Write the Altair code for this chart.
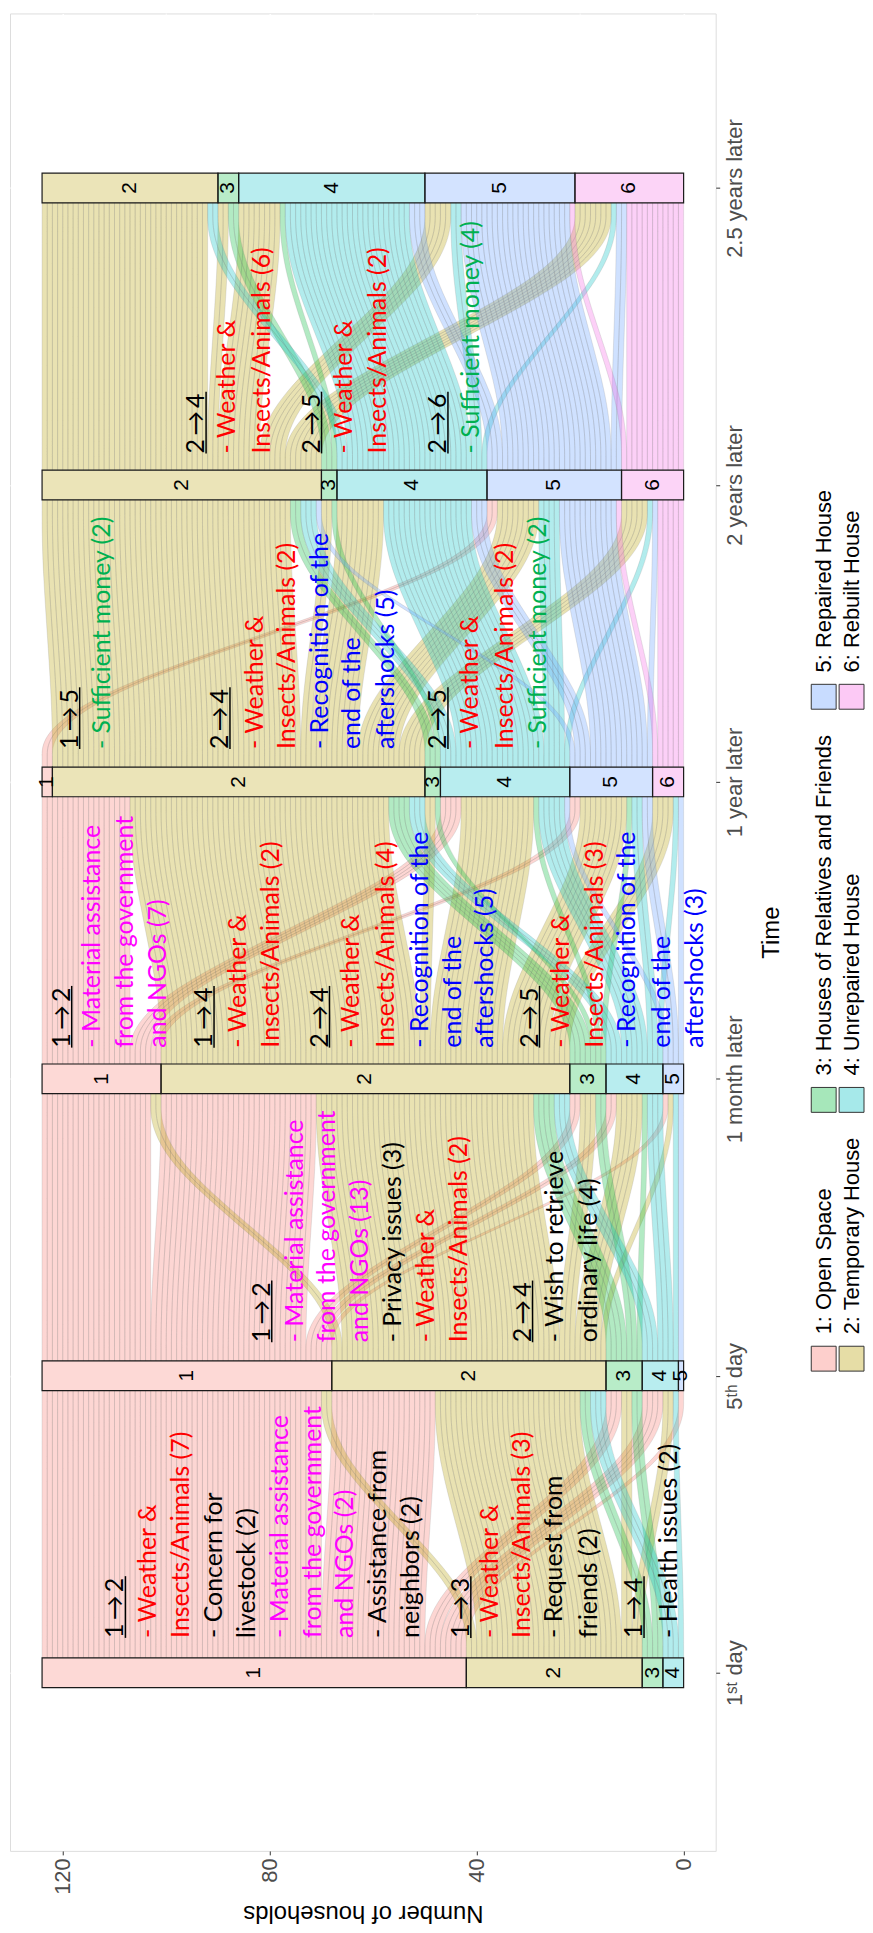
import json
import altair as alt
import pandas as pd

# ---------------- data ----------------
time_labels = ["1ˢᵗ day", "5ᵗʰ day", "1 month later", "1 year later",
               "2 years later", "2.5 years later"]
housing_types = ["1: Open Space", "2: Temporary House", "3: Houses of Relatives and Friends",
                 "4: Unrepaired House", "5: Repaired House", "6: Rebuilt House"]
type_colors = ["#F8766D", "#B79F00", "#00BA38", "#00BFC4", "#619CFF", "#F564E3"]

# households moving (from type, to type, count) between consecutive survey times
moves_day1_day5 = [(1, 1, 54), (1, 2, 20), (1, 3, 3), (1, 4, 4), (1, 5, 1),
                   (2, 1, 2), (2, 2, 28), (2, 3, 2), (2, 4, 2),
                   (3, 2, 2), (3, 3, 2), (4, 2, 3), (4, 4, 1)]
moves_day5_month1 = [(1, 1, 21), (1, 2, 30), (1, 3, 2), (1, 4, 2), (1, 5, 1),
                     (2, 1, 2), (2, 2, 42), (2, 3, 3), (2, 4, 5), (2, 5, 1),
                     (3, 2, 4), (3, 3, 2), (3, 4, 1),
                     (4, 2, 3), (4, 4, 3), (4, 5, 1), (5, 5, 1)]
moves_month1_year1 = [(1, 1, 2), (1, 2, 15), (1, 4, 4), (1, 5, 2),
                      (2, 2, 50), (2, 3, 2), (2, 4, 14), (2, 5, 9), (2, 6, 4),
                      (3, 2, 4), (3, 3, 1), (3, 4, 1), (3, 5, 1),
                      (4, 2, 3), (4, 4, 5), (4, 5, 2), (4, 6, 1),
                      (5, 4, 1), (5, 5, 2), (5, 6, 1)]
moves_year1_year2 = [(1, 5, 2),
                     (2, 2, 48), (2, 3, 2), (2, 4, 9), (2, 5, 8), (2, 6, 5),
                     (3, 2, 2), (3, 3, 1),
                     (4, 2, 3), (4, 4, 17), (4, 5, 4), (4, 6, 1),
                     (5, 2, 1), (5, 4, 3), (5, 5, 11), (5, 6, 1),
                     (6, 5, 1), (6, 6, 5)]
moves_year2_year25 = [(2, 2, 32), (2, 3, 2), (2, 4, 8), (2, 5, 5), (2, 6, 7),
                      (3, 3, 2), (3, 4, 1),
                      (4, 2, 2), (4, 4, 24), (4, 5, 2), (4, 6, 1),
                      (5, 4, 3), (5, 5, 21), (5, 6, 2),
                      (6, 5, 1), (6, 6, 11)]
all_moves = [moves_day1_day5, moves_day5_month1, moves_month1_year1,
             moves_year1_year2, moves_year2_year25]

household_ticks = [0, 40, 80, 120]
household_minor = [20, 60, 100]

# annotation texts: (text, colour key)
notes_day1 = [("1\u2009→\u20092", "h"), ("- Weather &", "r"), ("Insects/Animals (7)", "r"),
              ("- Concern for", "k"), ("livestock (2)", "k"),
              ("- Material assistance", "m"), ("from the government", "m"), ("and NGOs (2)", "m"),
              ("- Assistance from", "k"), ("neighbors (2)", "k"),
              ("1\u2009→\u20093", "h"), ("- Weather &", "r"), ("Insects/Animals (3)", "r"),
              ("- Request from", "k"), ("friends (2)", "k"),
              ("1\u2009→\u20094", "h"), ("- Health issues (2)", "k")]
notes_day5 = [("1\u2009→\u20092", "h"), ("- Material assistance", "m"), ("from the government", "m"),
              ("and NGOs (13)", "m"), ("- Privacy issues (3)", "k"),
              ("- Weather &", "r"), ("Insects/Animals (2)", "r"),
              ("2\u2009→\u20094", "h"), ("- Wish to retrieve", "k"), ("ordinary life (4)", "k")]
notes_month1 = [("1\u2009→\u20092", "h"), ("- Material assistance", "m"), ("from the government", "m"),
                ("and NGOs (7)", "m"),
                ("1\u2009→\u20094", "h"), ("- Weather &", "r"), ("Insects/Animals (2)", "r"),
                ("2\u2009→\u20094", "h"), ("- Weather &", "r"), ("Insects/Animals (4)", "r"),
                ("- Recognition of the", "b"), ("end of the", "b"), ("aftershocks (5)", "b"),
                ("2\u2009→\u20095", "h"), ("- Weather &", "r"), ("Insects/Animals (3)", "r"),
                ("- Recognition of the", "b"), ("end of the", "b"), ("aftershocks (3)", "b")]
notes_year1 = [("1\u2009→\u20095", "h"), ("- Sufficient money (2)", "g"),
               ("2\u2009→\u20094", "h"), ("- Weather &", "r"), ("Insects/Animals (2)", "r"),
               ("- Recognition of the", "b"), ("end of the", "b"), ("aftershocks (5)", "b"),
               ("2\u2009→\u20095", "h"), ("- Weather &", "r"), ("Insects/Animals (2)", "r"),
               ("- Sufficient money (2)", "g")]
notes_year2 = [("2\u2009→\u20094", "h"), ("- Weather &", "r"), ("Insects/Animals (6)", "r"),
               ("2\u2009→\u20095", "h"), ("- Weather &", "r"), ("Insects/Animals (2)", "r"),
               ("2\u2009→\u20096", "h"), ("- Sufficient money (4)", "g")]

# ---------------- layout / style ----------------
note_palette = {"h": "#000000", "k": "#000000", "r": "#FF0000", "m": "#FF00FF",
                "b": "#0000FF", "g": "#00B050"}
X0, Y0 = 10, 8          # page position of the plot origin
note_layout = [         # (page y where lines start, page x of each line)
    (1640, [116, 149, 182, 215, 248, 281, 314, 347, 380, 413, 463, 492, 524, 557, 592, 637, 672]),
    (1343, [263, 296, 329, 362, 395, 428, 461, 525, 558, 592]),
    (1047, [62, 92, 126, 159, 205, 239, 272, 321, 353, 388, 422, 455, 487, 532, 564, 598, 630, 665, 698]),
    (747, [70, 102, 221, 256, 288, 321, 354, 388, 440, 472, 507, 541]),
    (450, [197, 228, 263, 313, 346, 380, 440, 473]),
]
legend_cols_x = [815, 843]
legend_rows_y = [1347, 1087, 682]
KEY = 25
W_BOX = 0.1
KNOT = 0.25

# ---------------- derived tables ----------------
def tally(moves, idx):
    c = {}
    for m in moves:
        c[m[idx]] = c.get(m[idx], 0) + m[2]
    return c

counts = [tally(all_moves[0], 0)] + [tally(m, 1) for m in all_moves]


def bounds(cnt):
    b, top = {}, sum(cnt.values())
    for s in sorted(cnt):
        b[s] = (top - cnt[s], top)
        top -= cnt[s]
    return b

strata_rows = []
for t, cnt in enumerate(counts):
    for s, (lo, hi) in bounds(cnt).items():
        strata_rows.append(dict(t=t, y0=t - W_BOX / 2, y1=t + W_BOX / 2, lo=lo, hi=hi,
                                mid=(lo + hi) / 2, num=str(s), src=housing_types[s - 1]))
strata_df = pd.DataFrame(strata_rows)

flow_rows = []
for t, moves in enumerate(all_moves):
    out_top = {s: v[1] for s, v in bounds(counts[t]).items()}
    in_top = {d: v[1] for d, v in bounds(counts[t + 1]).items()}
    starts, ends = {}, {}
    for s, d, n in sorted(moves, key=lambda m: (m[0], m[1])):
        starts[(s, d)] = out_top[s]
        out_top[s] -= n
    for s, d, n in sorted(moves, key=lambda m: (m[1], m[0])):
        ends[(s, d)] = in_top[d]
        in_top[d] -= n
    y0 = t + W_BOX / 2
    y3 = t + 1 - W_BOX / 2
    g = y3 - y0
    for s, d, n in moves:
        for k in range(n):
            a = starts[(s, d)] - k
            b = ends[(s, d)] - k
            lid = f"{t}-{s}-{d}-{k}"
            for yy, hi in [(y0, a), (y0 + KNOT * g, a), (y3 - KNOT * g, b), (y3, b)]:
                flow_rows.append(dict(lode=lid, src=housing_types[s - 1], t=yy, hi=hi, lo=hi - 1))
flow_df = pd.DataFrame(flow_rows)

note_rows, underline_rows = [], []
for notes, (ystart, xs) in zip([notes_day1, notes_day5, notes_month1, notes_year1, notes_year2],
                               note_layout):
    for (txt, key), xc in zip(notes, xs):
        note_rows.append(dict(px=xc - X0, py=ystart - Y0, text=txt, col=note_palette[key]))
        if key == "h":
            underline_rows.append(dict(px=xc - X0 + 10, py0=ystart - Y0, py1=ystart - Y0 - 62))
note_df = pd.DataFrame(note_rows)
underline_df = pd.DataFrame(underline_rows)

leg_rows = []
for i, name in enumerate(housing_types):
    lx = legend_cols_x[i % 2] - X0
    ly = legend_rows_y[i // 2] - Y0
    leg_rows.append(dict(src=name, x0=lx, x1=lx + KEY, y0=ly, y1=ly + KEY,
                         tx=lx + KEY / 2, ty=ly - 12))
leg_df = pd.DataFrame(leg_rows)
minor_df = pd.DataFrame({"v": household_minor})

# ---------------- chart ----------------
FONT = "Liberation Sans"
x_scale = alt.Scale(domain=[-6.2, 130.2], reverse=True, nice=False, zero=False)
y_scale = alt.Scale(domain=[-0.6, 5.588], nice=False, zero=False)
fill_scale = alt.Scale(domain=housing_types, range=type_colors)

x_axis = alt.Axis(values=household_ticks, title="Number of households", labelAngle=270,
                  labelAlign="right", labelBaseline="middle", labelFontSize=22,
                  labelColor="#4D4D4D", labelFont=FONT, labelPadding=3, labelFlush=False,
                  tickColor="#333333", tickSize=4, domain=False, grid=True,
                  gridColor="white", gridWidth=1.6, titleAngle=180, titleBaseline="bottom",
                  titleFontSize=24, titleFont=FONT, titleFontWeight="normal",
                  titleColor="black", titlePadding=6)
label_expr = json.dumps(time_labels, ensure_ascii=False) + "[datum.value]"
y_axis = alt.Axis(values=list(range(len(time_labels))), orient="right", labelExpr=label_expr,
                  labelAngle=270, labelAlign="center", labelBaseline="top", labelFontSize=22,
                  labelColor="#4D4D4D", labelFont=FONT, labelPadding=5, labelFlush=False,
                  labelOverlap=False, tickColor="#333333", tickSize=4, domain=False, grid=True,
                  gridColor="white", gridWidth=1.6, title="Time", titleAngle=270,
                  titleBaseline="top", titleFontSize=24, titleFont=FONT,
                  titleFontWeight="normal", titleColor="black", titlePadding=14)

minor = alt.Chart(minor_df).mark_rule(color="white", strokeWidth=0.8).encode(
    x=alt.X("v:Q", scale=x_scale, axis=x_axis))

flows = alt.Chart(flow_df).mark_area(
    orient="horizontal", interpolate="basis", fillOpacity=0.3,
    stroke="#808080", strokeWidth=0.35, strokeOpacity=0.55).encode(
    y=alt.Y("t:Q", scale=y_scale, axis=y_axis),
    x=alt.X("hi:Q", scale=x_scale, stack=None),
    x2="lo:Q",
    detail="lode:N",
    fill=alt.Fill("src:N", scale=fill_scale, legend=None))

strata = alt.Chart(strata_df).mark_rect(fillOpacity=0.28, stroke="#1a1a1a", strokeWidth=1.2).encode(
    y=alt.Y("y0:Q", scale=y_scale), y2="y1:Q",
    x=alt.X("lo:Q", scale=x_scale), x2="hi:Q",
    fill=alt.Fill("src:N", scale=fill_scale, legend=None))

strata_text = alt.Chart(strata_df).mark_text(angle=270, fontSize=21, font=FONT, color="black",
                                             align="center", baseline="middle").encode(
    y=alt.Y("t:Q", scale=y_scale), x=alt.X("mid:Q", scale=x_scale), text="num:N")

notes = alt.Chart(note_df).mark_text(angle=270, align="left", baseline="middle",
                                     font="Lato", fontSize=25).encode(
    x=alt.X("px:Q", scale=None), y=alt.Y("py:Q", scale=None), text="text:N",
    color=alt.Color("col:N", scale=None))

underlines = alt.Chart(underline_df).mark_rule(color="black", strokeWidth=1.5).encode(
    x=alt.X("px:Q", scale=None), y=alt.Y("py0:Q", scale=None), y2="py1:Q")

leg_keys = alt.Chart(leg_df).mark_rect(fillOpacity=0.35, stroke="#333333", strokeWidth=1).encode(
    x=alt.X("x0:Q", scale=None), x2="x1:Q", y=alt.Y("y0:Q", scale=None), y2="y1:Q",
    fill=alt.Fill("src:N", scale=fill_scale, legend=None))

leg_text = alt.Chart(leg_df).mark_text(angle=270, align="left", baseline="middle",
                                       font=FONT, fontSize=22, color="black").encode(
    x=alt.X("tx:Q", scale=None), y=alt.Y("ty:Q", scale=None), text="src:N")

chart = alt.layer(minor, flows, strata, strata_text, underlines, notes, leg_keys, leg_text).properties(
    width=709, height=1846,
    padding={"left": 2, "top": 0, "right": 0, "bottom": 0},
).configure_view(fill="#EBEBEB", strokeWidth=0).configure(background="white")

chart.save("out.html", embed_options={"renderer": "svg", "actions": False})
